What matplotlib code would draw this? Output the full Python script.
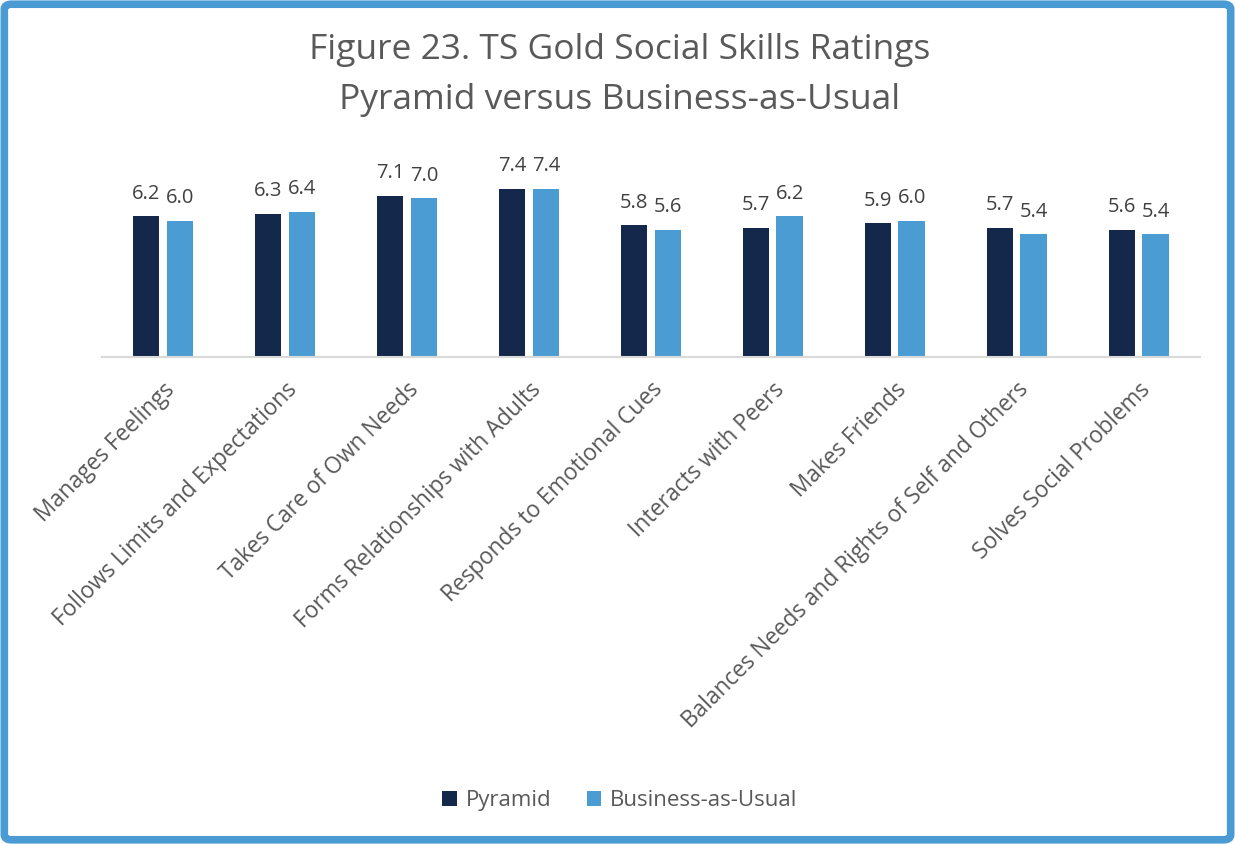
import numpy as np
import matplotlib.pyplot as plt
from matplotlib.patches import FancyBboxPatch

plt.rcParams['font.family'] = ['Open Sans', 'DejaVu Sans']

# Дані з рисунка
categories = ['Manages Feelings', 'Follows Limits and Expectations', 'Takes Care of Own Needs',
              'Forms Relationships with Adults', 'Responds to Emotional Cues', 'Interacts with Peers',
              'Makes Friends', 'Balances Needs and Rights of Self and Others', 'Solves Social Problems']
pyramid = [6.2, 6.3, 7.1, 7.4, 5.8, 5.7, 5.9, 5.7, 5.6]
bau = [6.0, 6.4, 7.0, 7.4, 5.6, 6.2, 6.0, 5.4, 5.4]
title_lines = ['Figure 23. TS Gold Social Skills Ratings', 'Pyramid versus Business-as-Usual']

c_pyr = '#14284B'
c_bau = '#4B9CD3'
grey = '#595959'

fig = plt.figure(figsize=(12.35, 8.44), dpi=100)
ax = fig.add_axes([0.0826, 0.577, 0.889, 0.2287])

x = np.arange(len(categories))
w = 0.22
off = 0.139
b1 = ax.bar(x - off, pyramid, w, color=c_pyr, label='Pyramid')
b2 = ax.bar(x + off, bau, w, color=c_bau, label='Business-as-Usual')

for bars, vals in [(b1, pyramid), (b2, bau)]:
    for r, v in zip(bars, vals):
        ax.annotate(f'{v:.1f}', (r.get_x() + r.get_width() / 2, v), xytext=(0, 9),
                    textcoords='offset points', ha='center', va='bottom',
                    fontsize=14.5, color='#404040')

ax.set_xlim(-0.5, len(categories) - 0.5)
ax.set_ylim(0, 8.5)
ax.set_yticks([])
for s in ['top', 'right', 'left']:
    ax.spines[s].set_visible(False)
ax.spines['bottom'].set_color('#D9D9D9')
ax.spines['bottom'].set_linewidth(1.5)
ax.set_xticks(x)
ax.set_xticklabels(categories, rotation=45, ha='right', rotation_mode='anchor',
                   fontsize=16.3, color=grey)
ax.tick_params(axis='x', length=0, pad=15)

fig.text(0.502, 0.941, title_lines[0], ha='center', va='center', fontsize=25.5, color=grey)
fig.text(0.502, 0.882, title_lines[1], ha='center', va='center', fontsize=25.5, color=grey)

fig.legend(loc='center', bbox_to_anchor=(0.502, 0.051), ncol=2, frameon=False,
           fontsize=16, handlelength=0.65, handleheight=0.65, handletextpad=0.4,
           columnspacing=1.6, labelcolor=grey)

border = FancyBboxPatch((0.0035, 0.005), 0.993, 0.99, boxstyle='round,pad=0,rounding_size=0.006',
                        transform=fig.transFigure, fill=False, edgecolor='#4A9BD4', linewidth=5.5)
fig.patches.append(border)

fig.savefig('out.png', dpi=100)
